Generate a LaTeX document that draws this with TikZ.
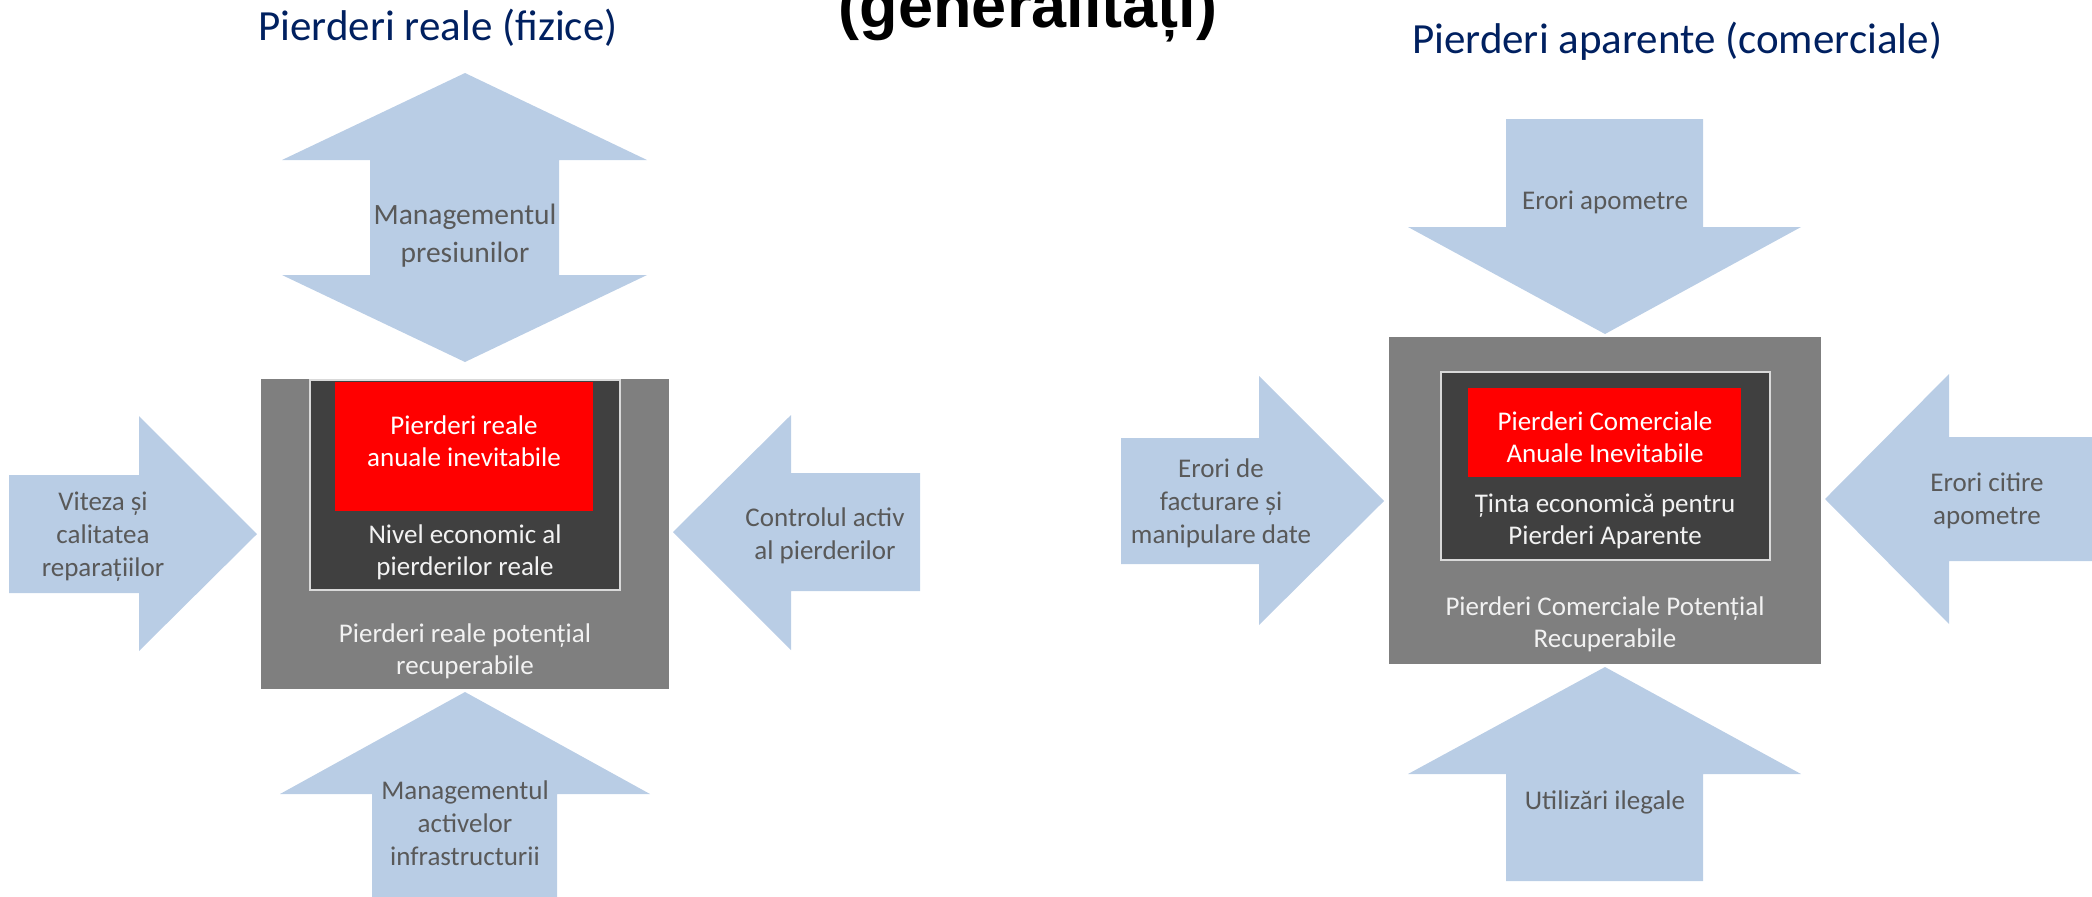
\documentclass[tikz,border=0pt]{standalone}
\usepackage{fontspec}
\setmainfont{Carlito}
\newfontfamily\headfont{Liberation Sans}
\usepackage{tikz}
\usetikzlibrary{positioning}
\definecolor{arrowblue}{HTML}{B9CDE5}
\definecolor{labelgray}{HTML}{595959}
\definecolor{titlenavy}{HTML}{002060}
\definecolor{outergray}{HTML}{7F7F7F}
\definecolor{innerdark}{HTML}{404040}
\definecolor{lossred}{HTML}{FF0000}
\definecolor{edgegray}{HTML}{D9D9D9}

\begin{document}
\begin{tikzpicture}[x=0.5pt, y=-0.5pt,
  blockarrow/.style={fill=arrowblue},
  arrowtext/.style={text=labelgray, align=center, inner sep=0pt, font=\fontsize{13.5}{16.5}\selectfont},
  boxtext/.style={text=white!95!black, align=center, inner sep=0pt, font=\fontsize{13.5}{16}\selectfont},
  heading/.style={text=titlenavy, anchor=base, inner sep=0pt, font=\fontsize{21.5}{26}\selectfont},
  outerbox/.style={fill=outergray},
  innerbox/.style={fill=innerdark, draw=edgegray, line width=1pt},
  redbox/.style={fill=lossred}
]
  \useasboundingbox (0,0) rectangle (2092,896);
  \clip (0,0) rectangle (2092,896);

  % titles
  \node[anchor=base, inner sep=0pt, font=\headfont\bfseries\fontsize{31.5}{36}\selectfont] (maintitle) at (1028,27) {(generalități)};
  \node[heading] (realtitle) at (438,40) {Pierderi reale (fizice)};
  \node[heading] (apptitle) at (1677,53) {Pierderi aparente (comerciale)};

  % real losses: arrows
  \fill[blockarrow] (465,73) -- (647,160) -- (559,160) -- (559,275) -- (647,275) -- (465,362)
    -- (282,275) -- (370,275) -- (370,160) -- (282,160) -- cycle;
  \fill[blockarrow] (9,475) -- (139,475) -- (139,416) -- (257,534) -- (139,651) -- (139,593) -- (9,593) -- cycle;
  \fill[blockarrow] (673,532) -- (791,415) -- (791,473) -- (920,473) -- (920,591) -- (791,591) -- (791,650) -- cycle;
  \fill[blockarrow] (465,692) -- (650,794) -- (557,794) -- (557,900) -- (372,900) -- (372,794) -- (280,794) -- cycle;

  \node[arrowtext, font=\fontsize{14.75}{19}\selectfont] (pressure) at (465,236) {Managementul\\presiunilor};
  \node[arrowtext] (repairs) at (103,537) {Viteza și\\calitatea\\reparațiilor};
  \node[arrowtext] (control) at (825,536) {Controlul activ\\al pierderilor};
  \node[arrowtext] (assets) at (465,823) {Managementul\\activelor\\infrastructurii};

  % real losses: boxes
  \fill[outerbox] (261,379) rectangle (669,689);
  \filldraw[innerbox] (310,380) rectangle (620,590);
  \fill[redbox] (335,382) rectangle (593,511);
  \node[boxtext, text=white] (realunavoid) at (464,441) {Pierderi reale\\anuale inevitabile};
  \node[boxtext] (realeconomic) at (465,552) {Nivel economic al\\pierderilor reale};
  \node[boxtext] (realrecover) at (465,651) {Pierderi reale potențial\\recuperabile};

  % apparent losses: arrows
  \fill[blockarrow] (1506,119) -- (1703,119) -- (1703,227) -- (1801,227) -- (1605,334) -- (1408,227) -- (1506,227) -- cycle;
  \fill[blockarrow] (1121,438) -- (1259,438) -- (1259,376) -- (1384,501) -- (1259,625) -- (1259,564) -- (1121,564) -- cycle;
  \fill[blockarrow] (1825,499) -- (1949,374) -- (1949,437) -- (2100,437) -- (2100,561) -- (1949,561) -- (1949,624) -- cycle;
  \fill[blockarrow] (1605,667) -- (1801,774) -- (1703,774) -- (1703,881) -- (1506,881) -- (1506,774) -- (1408,774) -- cycle;

  \node[arrowtext] (meters) at (1605,202) {Erori apometre};
  \node[arrowtext] (billing) at (1221,503) {Erori de\\facturare și\\manipulare date};
  \node[arrowtext] (reading) at (1987,501) {Erori citire\\apometre};
  \node[arrowtext] (illegal) at (1605,802) {Utilizări ilegale};

  % apparent losses: boxes
  \fill[outerbox] (1389,337) rectangle (1821,664);
  \filldraw[innerbox] (1441,372) rectangle (1770,560);
  \fill[redbox] (1468,388) rectangle (1741,477);
  \node[boxtext, text=white] (appunavoid) at (1605,437) {Pierderi Comerciale\\Anuale Inevitabile};
  \node[boxtext] (appeconomic) at (1605,521) {Ținta economică pentru\\Pierderi Aparente};
  \node[boxtext] (apprecover) at (1605,624) {Pierderi Comerciale Potențial\\Recuperabile};
\end{tikzpicture}
\end{document}
